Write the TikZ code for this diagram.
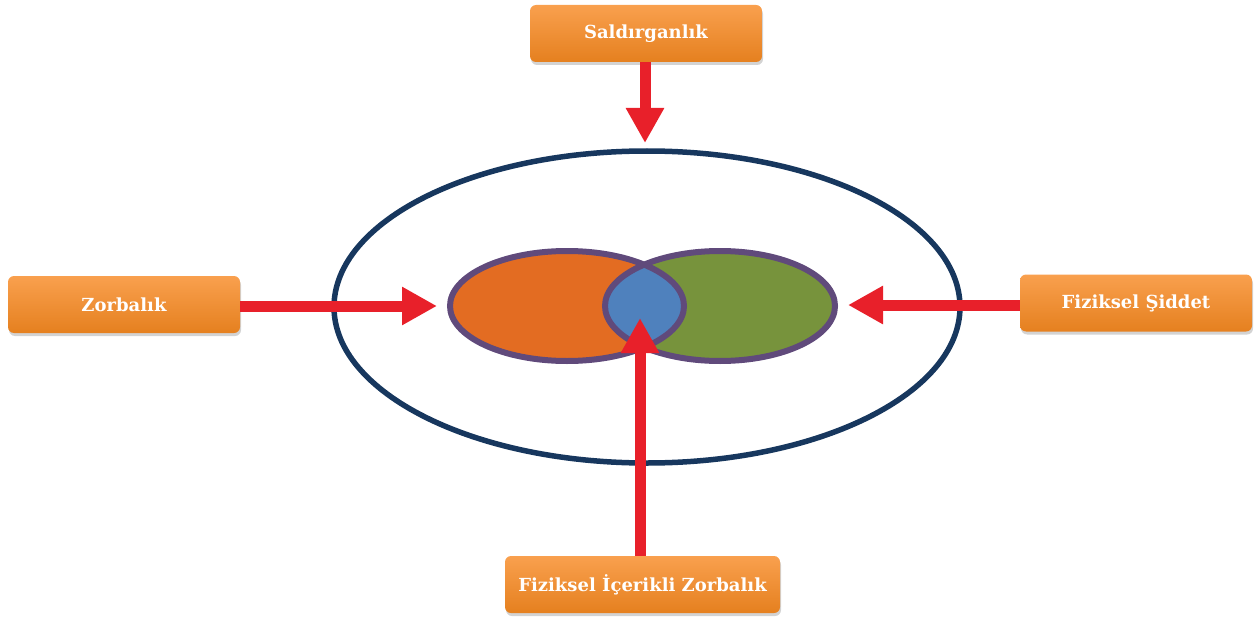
\documentclass[tikz,border=0pt]{standalone}
\usepackage{fontspec}
\setmainfont{DejaVu Serif}
\usetikzlibrary{arrows.meta,shadows}
\definecolor{navy}{HTML}{17375E}
\definecolor{purp}{HTML}{604A7B}
\definecolor{orng}{HTML}{E36C22}
\definecolor{grn}{HTML}{77933C}
\definecolor{blu}{HTML}{4F81BD}
\definecolor{arred}{HTML}{E8202A}
\definecolor{boxtop}{HTML}{F9A04E}
\definecolor{boxbot}{HTML}{E5801F}
\tikzset{
  obox/.style={rounded corners=6pt, top color=boxtop, bottom color=boxbot,
    draw=none, text=white, font=\bfseries\fontsize{18}{21}\selectfont,
    minimum height=57pt, inner sep=0pt,
    drop shadow={opacity=0.35, shadow xshift=1pt, shadow yshift=-3pt}},
  redarrow/.style={draw=arred, line width=11pt,
    -{Triangle[length=35pt,width=36pt]}, color=arred},
  venn/.style={draw=purp, line width=6pt},
}
\begin{document}
\begin{tikzpicture}[x=1pt,y=-1pt]
\useasboundingbox (0,0) rectangle (1258,623);
% big ellipse
\draw[navy, line width=5.5pt] (647,307) ellipse [x radius=313, y radius=156];
% venn
\fill[orng] (567,306) ellipse [x radius=117, y radius=55];
\fill[grn] (720,306) ellipse [x radius=115, y radius=55];
\begin{scope}
  \clip (567,306) ellipse [x radius=117, y radius=55];
  \fill[blu] (720,306) ellipse [x radius=115, y radius=55];
\end{scope}
\draw[venn] (567,306) ellipse [x radius=117, y radius=55];
\draw[venn] (720,306) ellipse [x radius=115, y radius=55];
% boxes
\node[obox, minimum width=232pt] (top) at (646,33.5) {Saldırganlık};
\node[obox, minimum width=232pt] (left) at (124,304.5) {Zorbalık};
\node[obox, minimum width=232pt] (right) at (1136,303) {Fiziksel Şiddet};
\node[obox, minimum width=275pt] (bot) at (642.5,584.5) {Fiziksel İçerikli Zorbalık};
% arrow tips
\coordinate (ttip) at (645,143);
\coordinate (ltip) at (437,306);
\coordinate (rtip) at (848,305);
\coordinate (btip) at (640,318);
\draw[redarrow] (top.south -| ttip) -- (ttip);
\draw[redarrow] (left.east |- ltip) -- (ltip);
\draw[redarrow] (right.west |- rtip) -- (rtip);
\draw[redarrow] (bot.north -| btip) -- (btip);
\end{tikzpicture}
\end{document}
